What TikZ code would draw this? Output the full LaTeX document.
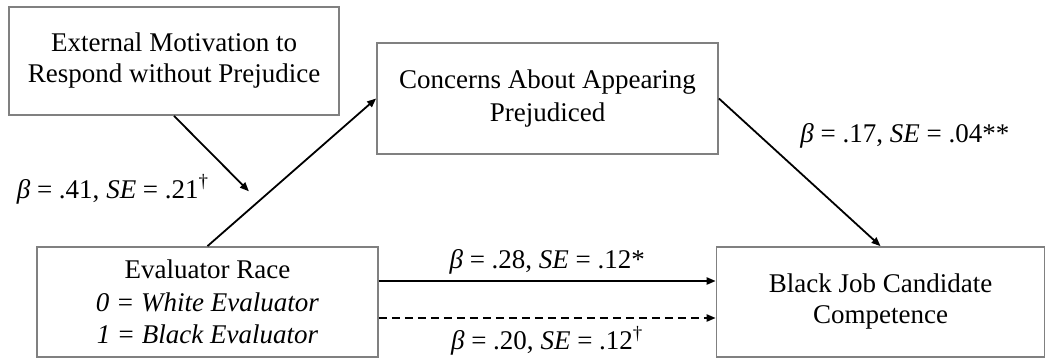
\documentclass[tikz,border=0pt]{standalone}
\usepackage{fontspec}
\setmainfont{Liberation Serif}
\usepackage{tikz}
\usetikzlibrary{positioning, arrows.meta, calc}

\definecolor{boxgray}{gray}{0.5}

\begin{document}
\begin{tikzpicture}[->,>={Triangle[length=4.5pt,width=3.6pt]}, line width=0.9pt, on grid,
    var/.style={draw=boxgray, line width=0.9pt, align=center, inner sep=0pt, font=\fontsize{13.5}{15.5}\selectfont},
    lbl/.style={inner sep=0pt, font=\fontsize{13.5}{15.5}\selectfont}]
  \useasboundingbox (0,0) rectangle (523.5pt,-179pt);
  \node[var, minimum width=170.5pt, minimum height=55pt, font=\fontsize{13.5}{16.3}\selectfont] (race) at (103.75pt,-151pt)
    {Evaluator Race\\ \textit{0 = White Evaluator}\\ \textit{1 = Black Evaluator}};
  \node[var, minimum width=164pt, minimum height=55pt] (black) [right=336.5pt of race]
    {Black Job Candidate\\ Competence};
  \node[var, minimum width=170.5pt, minimum height=55.5pt, font=\fontsize{13.5}{16.5}\selectfont] (conc) [above right=101.75pt and 170pt of race]
    {Concerns About Appearing\\ Prejudiced};
  \node[var, minimum width=165pt, minimum height=54pt] (ext) [above left=120.5pt and 16.75pt of race]
    {External Motivation to\\ Respond without Prejudice};
  \coordinate (mod) at ($(race.north)!0.304!(conc.west)$);
  \draw (race.north) -- (conc.west);
  \draw (conc.east) -- (black.north);
  \draw[shorten >=7pt] (ext.south) -- (mod);
  \draw ([yshift=10.5pt]race.east) -- node[lbl, midway, yshift=9.5pt]
    {\textit{β} = .28, \textit{SE} = .12*} ([yshift=10.5pt]black.west);
  \draw[dash pattern=on 4pt off 2.5pt] ([yshift=-8pt]race.east) -- node[lbl, midway, yshift=-11.5pt]
    {\textit{β} = .20, \textit{SE} = .12\textsuperscript{†}} ([yshift=-8pt]black.west);
  \node[lbl] at ($(race.north)+(-47.25pt,28.5pt)$) {\textit{β} = .41, \textit{SE} = .21\textsuperscript{†}};
  \node[lbl] at ($(conc.east)+(93pt,-18.5pt)$) {\textit{β} = .17, \textit{SE} = .04**};
\end{tikzpicture}
\end{document}
